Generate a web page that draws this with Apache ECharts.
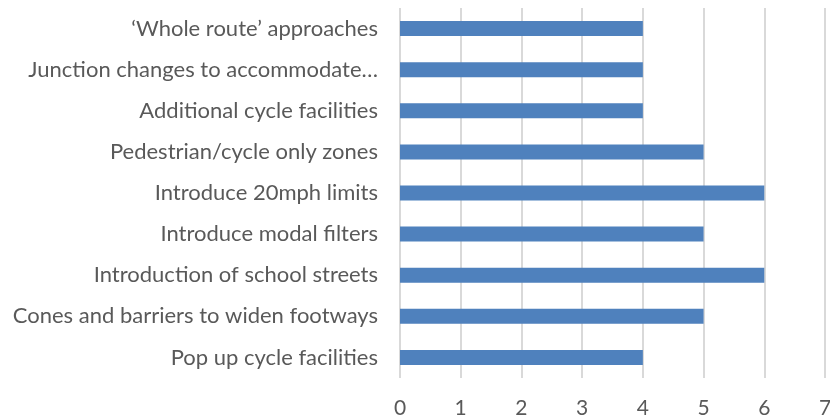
<!DOCTYPE html>
<html>
<head>
<meta charset="utf-8">
<script src="https://cdn.jsdelivr.net/npm/echarts@6/dist/echarts.min.js"></script>
<style>
  html, body { margin: 0; padding: 0; background: #fff; }
  #chart { width: 830px; height: 419px; }
</style>
</head>
<body>
<div id="chart"></div>
<script>
// categories listed bottom to top
const categories = [
  "Pop up cycle facilities",
  "Cones and barriers to widen footways",
  "Introduction of school streets",
  "Introduce modal filters",
  "Introduce 20mph limits",
  "Pedestrian/cycle only zones",
  "Additional cycle facilities",
  "Junction changes to accommodate…",
  "\u2018Whole route\u2019 approaches"
];
const values = [4, 5, 6, 5, 6, 5, 4, 4, 4];
const axisMin = 0;
const axisMax = 7;
const axisStep = 1;

const chart = echarts.init(document.getElementById("chart"));
chart.setOption({
  animation: false,
  grid: {
    left: 400, right: 5, top: 8, bottom: 41,
    containLabel: false,
    outerBoundsMode: "none"
  },
  xAxis: {
    type: "value",
    min: axisMin,
    max: axisMax,
    interval: axisStep,
    axisLine: { show: false },
    axisTick: { show: false },
    axisLabel: {
      color: "#595959",
      fontFamily: "Lato",
      fontSize: 21,
      margin: 20
    },
    splitLine: { lineStyle: { color: "#d9d9d9", width: 2 } }
  },
  yAxis: {
    type: "category",
    data: categories,
    axisLine: { show: false },
    axisTick: { show: false },
    axisLabel: {
      color: "#595959",
      fontFamily: "Lato",
      fontSize: 22,
      margin: 22
    }
  },
  series: [{
    type: "bar",
    data: values,
    barWidth: 15,
    itemStyle: { color: "#4f81bd" }
  }]
});
</script>
</body>
</html>
